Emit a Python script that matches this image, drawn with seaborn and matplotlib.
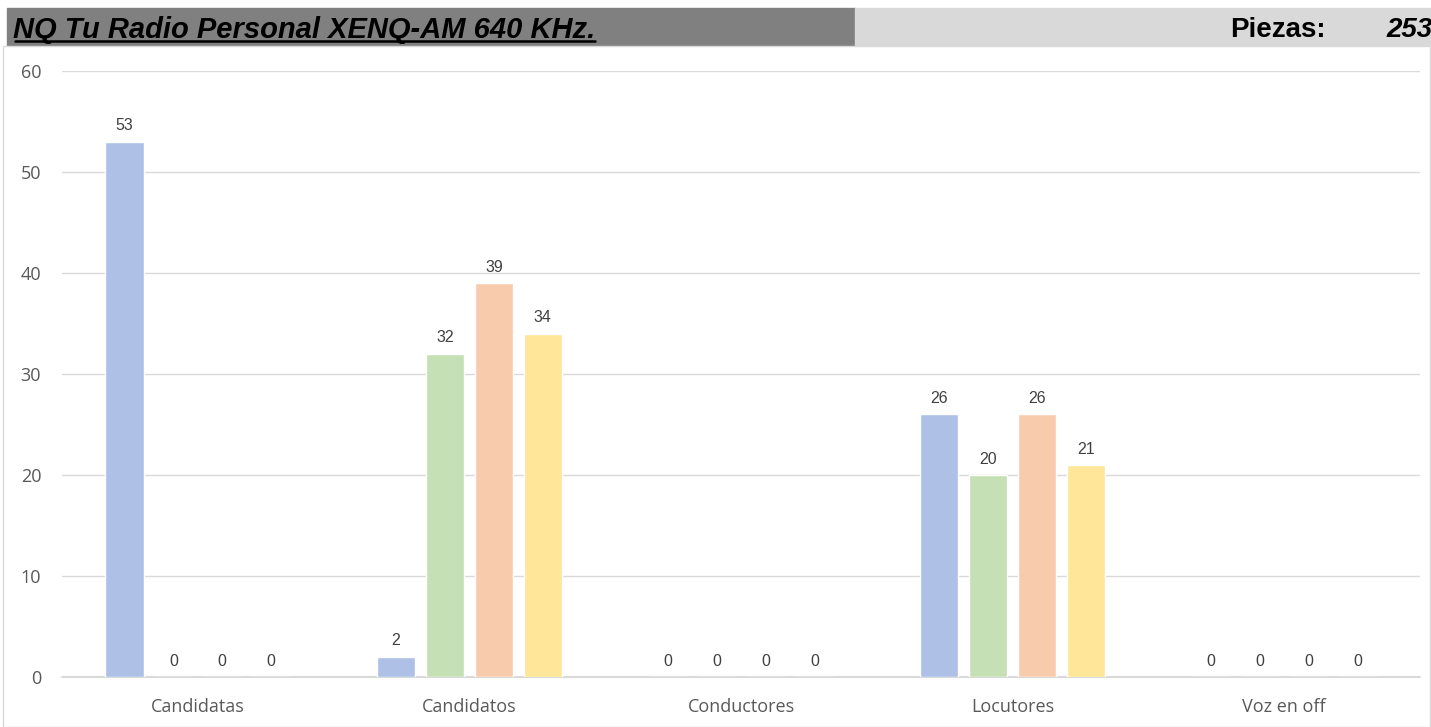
import pandas as pd
import seaborn as sns
import matplotlib.pyplot as plt
from matplotlib.patches import Rectangle

# data
categorias = ['Candidatas', 'Candidatos', 'Conductores', 'Locutores', 'Voz en off']
series = ['Serie 1', 'Serie 2', 'Serie 3', 'Serie 4']
serie1 = [53, 2, 0, 26, 0]
serie2 = [0, 32, 0, 20, 0]
serie3 = [0, 39, 0, 26, 0]
serie4 = [0, 34, 0, 21, 0]
colores = ['#AEC0E6', '#C5E0B4', '#F8CBAD', '#FFE699']
yticks = [0, 10, 20, 30, 40, 50, 60]
titulo = 'NQ Tu Radio Personal XENQ-AM 640 KHz.'
piezas = '253'

rows = []
for s, vals in zip(series, [serie1, serie2, serie3, serie4]):
    for c, v in zip(categorias, vals):
        rows.append({'categoria': c, 'serie': s, 'valor': v})
df = pd.DataFrame(rows)

sns.set_theme(style='white')
plt.rcParams['font.family'] = ['Liberation Sans', 'DejaVu Sans']

fig = plt.figure(figsize=(14.31, 7.27), dpi=100)
W, H = 1431, 727

# header bars
fig.patches.append(Rectangle((7 / W, 1 - 45 / H), (855 - 7) / W, 37 / H,
                             transform=fig.transFigure, color='#808080', zorder=0))
fig.patches.append(Rectangle((855 / W, 1 - 45 / H), (W - 855) / W, 37 / H,
                             transform=fig.transFigure, color='#D9D9D9', zorder=0))
# chart border
fig.patches.append(Rectangle((3 / W, 0), (W - 4) / W, 1 - 46 / H, transform=fig.transFigure,
                             fill=False, edgecolor='#D9D9D9', lw=1, zorder=0))

t = fig.text(13 / W, 1 - 38 / H, titulo, fontsize=21, fontweight='bold', fontstyle='italic',
             va='baseline', ha='left', color='black')
# underline under the title, same width as the text
fig.canvas.draw()
bb = t.get_window_extent().transformed(fig.transFigure.inverted())
fig.add_artist(plt.Line2D([bb.x0 + 2 / W, bb.x1], [1 - 41 / H, 1 - 41 / H], color='black', lw=1.8,
                          transform=fig.transFigure))
fig.text(1326 / W, 1 - 37 / H, 'Piezas:', fontsize=20, fontweight='bold', va='baseline', ha='right',
         color='black')
fig.text(1433 / W, 1 - 37 / H, piezas, fontsize=20, fontweight='bold', fontstyle='italic',
         va='baseline', ha='right', color='black')

ax = fig.add_axes([62 / W, 1 - 677 / H, (1420 - 62) / W, (677 - 71) / H])
sns.barplot(data=df, x='categoria', y='valor', hue='serie', order=categorias, hue_order=series,
            palette=colores, width=0.72, gap=0.22, saturation=1, ax=ax, legend=False, zorder=3)

for cont in ax.containers:
    ax.bar_label(cont, fmt='%d', padding=6, fontsize=11.5, color='#404040')

ax.set_ylim(0, 60)
ax.set_xlim(-0.5, 4.5)
ax.set_yticks(yticks)
ax.yaxis.grid(True, color='#D9D9D9', lw=1, zorder=0)
ax.axhline(0, color='#D9D9D9', lw=1.5, clip_on=False, zorder=1)
ax.set_axisbelow(True)
for sp in ax.spines.values():
    sp.set_visible(False)
ax.tick_params(axis='both', length=0, labelsize=13, colors='#595959')
ax.tick_params(axis='y', pad=15)
ax.tick_params(axis='x', pad=15)
ax.set_xlabel('')
ax.set_ylabel('')
for lbl in ax.get_xticklabels() + ax.get_yticklabels():
    lbl.set_fontfamily(['Open Sans', 'DejaVu Sans'])

plt.savefig('out.png', dpi=100)
